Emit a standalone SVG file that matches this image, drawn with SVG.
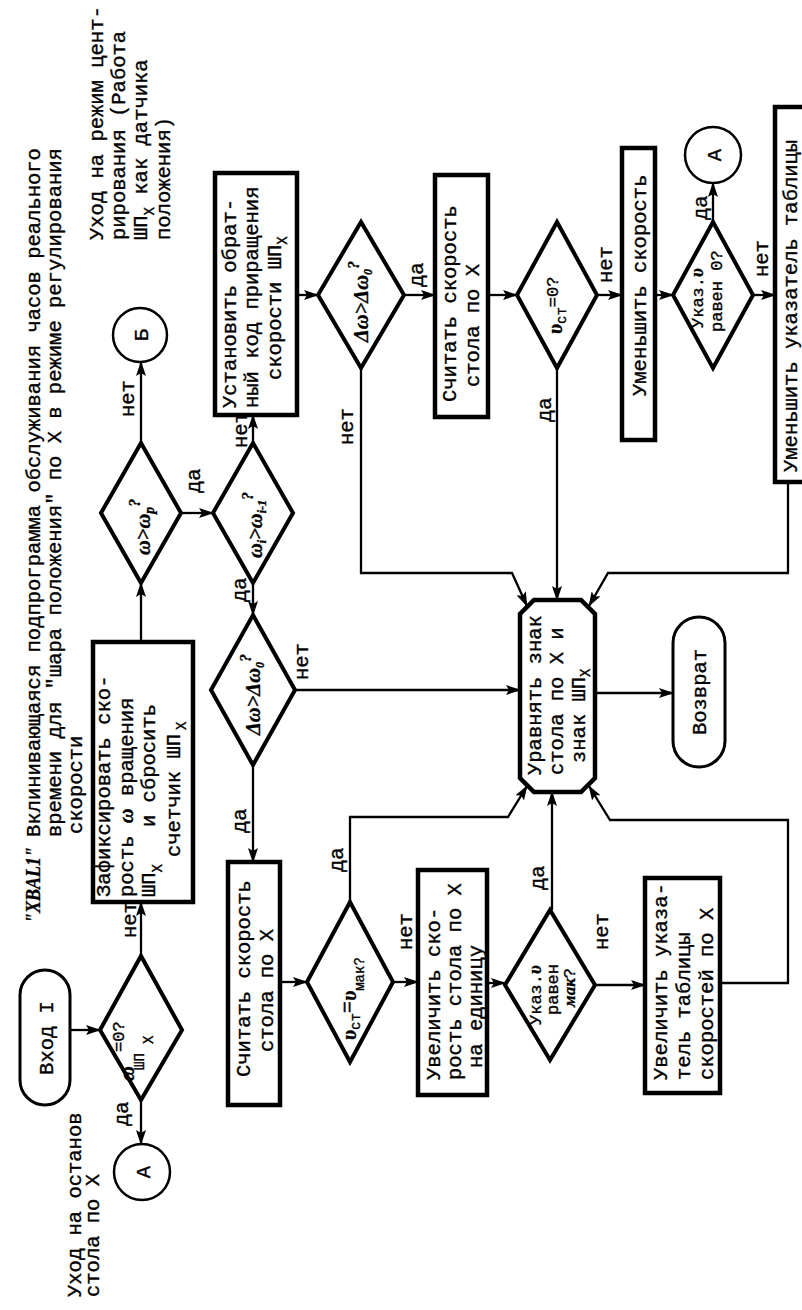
<svg xmlns="http://www.w3.org/2000/svg" width="802" height="1310" viewBox="0 0 802 1310">
<defs>
<style>
.t{font-family:"Liberation Mono","DejaVu Sans Mono",monospace;font-size:20.5px;fill:#000;stroke:#000;stroke-width:0.35}
.d{font-size:17px}
.sub{font-size:14px}
.m{font-family:"Liberation Serif","DejaVu Serif",serif;font-style:italic;font-weight:bold}
.box{fill:#fff;stroke:#000;stroke-width:4.5}
.dia{fill:#fff;stroke:#000;stroke-width:4;stroke-linejoin:miter}
.term{fill:#fff;stroke:#000;stroke-width:3}
.circ{fill:#fff;stroke:#000;stroke-width:2.5}
.c{fill:none;stroke:#000;stroke-width:2.3;marker-end:url(#ah)}
</style>
<marker id="ah" markerWidth="15" markerHeight="10" refX="14" refY="5" orient="auto" markerUnits="userSpaceOnUse">
<path d="M0,0 L15,5 L0,10 L3,5 z" fill="#000"/>
</marker>
</defs>
<rect width="802" height="1310" fill="#fff"/>
<g transform="translate(0,1310) rotate(-90)">

<g id="title" class="t">
<text x="387" y="40" class="m" textLength="76" lengthAdjust="spacingAndGlyphs">"XBAL1"</text>
<text x="473" y="40">Вклинивающаяся подпрограмма обслуживания часов реального</text>
<text x="473" y="61">времени для "шара положения" по X в режиме регулирования</text>
<text x="476" y="82">скорости</text>
</g>

<g id="note-stop" class="t">
<text x="13" y="81">Уход на останов</text>
<text x="13" y="99">стола по X</text>
</g>

<g id="note-center" class="t">
<text x="1070" y="103">Уход на режим цент-</text>
<text x="1070" y="125">рирования (Работа</text>
<text x="1070" y="147">ШП<tspan class="sub" dy="7">X</tspan><tspan dy="-7"> как датчика</tspan></text>
<text x="1070" y="170">положения)</text>
</g>

<g id="connectors">
<path class="c" d="M280,70 L280,100"/>
<path class="c" d="M210,141 L166,141"/>
<path class="c" d="M354,141 L408,141"/>
<path class="c" d="M668,141 L727,141"/>
<path class="c" d="M867,141 L948,141"/>
<path class="c" d="M797,181 L797,213"/>
<path class="c" d="M867,253 L895,253"/>
<path class="c" d="M1015,297 L1015,318"/>
<path class="c" d="M1015,404 L1015,435"/>
<path class="c" d="M942,361 L737,361 L737,512 L704,527"/>
<path class="c" d="M1015,488 L1015,517"/>
<path class="c" d="M942,557 L710,557"/>
<path class="c" d="M1015,597 L1015,622"/>
<path class="c" d="M1015,655 L1015,673"/>
<path class="c" d="M1088,713 L1127,713"/>
<path class="c" d="M1015,753 L1015,775"/>
<path class="c" d="M828,788 L737,788 L737,608 L704,589"/>
<path class="c" d="M727,253 L695,253"/>
<path class="c" d="M620,295 L620,520"/>
<path class="c" d="M545,253 L448,253"/>
<path class="c" d="M328,280 L328,307"/>
<path class="c" d="M408,350 L493,350 L493,508 L524,527"/>
<path class="c" d="M328,393 L328,418"/>
<path class="c" d="M327,487 L327,505"/>
<path class="c" d="M400,552 L518,552"/>
<path class="c" d="M325,595 L325,645"/>
<path class="c" d="M327,720 L327,788 L490,788 L490,610 L524,589"/>
<path class="c" d="M617,595 L617,673"/>
</g>

<g id="labels" class="t">
<text x="184" y="128">да</text>
<text x="372" y="136">нет</text>
<text x="893" y="134">нет</text>
<text x="817" y="200">да</text>
<text x="862" y="247">нет</text>
<text x="1023" y="423">да</text>
<text x="865" y="353">нет</text>
<text x="888" y="551">да</text>
<text x="1027" y="612">нет</text>
<text x="1090" y="707">да</text>
<text x="1033" y="768">нет</text>
<text x="708" y="246">да</text>
<text x="630" y="308">нет</text>
<text x="477" y="246">да</text>
<text x="438" y="343">да</text>
<text x="360" y="412">нет</text>
<text x="420" y="544">да</text>
<text x="360" y="608">нет</text>
</g>

<g id="entry">
<rect class="term" x="205" y="20" width="135" height="50" rx="25"/>
<text class="t" x="272" y="53" text-anchor="middle">Вход I</text>
</g>

<g id="d-shp0">
<polygon class="dia" points="210,141 280,100 354,141 280,182"/>
<text class="t d" x="258" y="124">=0?</text>
<text class="t m" x="229" y="134" font-size="20">ω</text>
<text class="t sub" x="240" y="144">ШП</text>
<text class="t sub" x="266" y="153">X</text>
</g>

<g id="A1">
<circle class="circ" cx="138" cy="142" r="28"/>
<text class="t" x="138" y="150" text-anchor="middle">А</text>
</g>

<g id="fix">
<rect class="box" x="408" y="93" width="260" height="100"/>
<text class="t" x="413" y="110">Зафиксировать ско-</text>
<text class="t" x="413" y="133">рость <tspan class="m">ω</tspan> вращения</text>
<text class="t" x="413" y="155">ШП<tspan class="sub" dy="7">X</tspan><tspan x="483" dy="-7">и сбросить</tspan></text>
<text class="t" x="453" y="180">счетчик ШП<tspan class="sub" dx="4" dy="6">X</tspan></text>
</g>

<g id="d-wr">
<polygon class="dia" points="727,141 797,101 867,141 797,181"/>
<text class="t m" x="755" y="150" font-size="20">ω&gt;ω<tspan font-size="14" dy="4">р</tspan><tspan font-size="16" dy="-14">?</tspan></text>
</g>

<g id="B">
<circle class="circ" cx="975" cy="140" r="27"/>
<text class="t" x="975" y="148" text-anchor="middle">Б</text>
</g>

<g id="d-wi">
<polygon class="dia" points="727,253 797,213 867,253 797,293"/>
<text class="t m" x="752" y="262" font-size="19">ω<tspan font-size="12" dy="4">i</tspan><tspan dy="-4">&gt;ω</tspan><tspan font-size="12" dy="4">i-1</tspan><tspan font-size="16" dy="-13">?</tspan></text>
</g>

<g id="set-inv">
<rect class="box" x="895" y="215" width="242" height="82"/>
<text class="t" x="902" y="236">Установить обрат-</text>
<text class="t" x="902" y="258">ный код приращения</text>
<text class="t" x="930" y="281">скорости ШП<tspan class="sub" dy="6">X</tspan></text>
</g>

<g id="d-dw1">
<polygon class="dia" points="942,361 1015,318 1088,361 1015,404"/>
<text class="t m" x="968" y="368" font-size="19">Δω&gt;Δω<tspan font-size="12" dy="4">0</tspan><tspan font-size="16" dy="-13">?</tspan></text>
</g>

<g id="read1">
<rect class="box" x="893" y="435" width="242" height="53"/>
<text class="t" x="908" y="456">Считать скорость</text>
<text class="t" x="923" y="479">стола по X</text>
</g>

<g id="d-v0">
<polygon class="dia" points="942,557 1015,517 1088,557 1015,597"/>
<text class="t m" x="976" y="562" font-size="20">υ<tspan class="t sub" font-style="normal" font-weight="normal" dy="4">ст</tspan><tspan class="t d" font-style="normal" font-weight="normal" dy="-8">=0?</tspan></text>
</g>

<g id="dec-speed">
<rect class="box" x="870" y="622" width="292" height="33"/>
<text class="t" x="914" y="646">Уменьшить скорость</text>
</g>

<g id="d-p0">
<polygon class="dia" points="942,713 1015,673 1088,713 1015,753"/>
<text class="t d" x="982" y="703">Указ.<tspan class="m" font-size="18">υ</tspan></text>
<text class="t d" x="978" y="722">равен 0?</text>
</g>

<g id="A2">
<circle class="circ" cx="1155" cy="713" r="28"/>
<text class="t" x="1155" y="721" text-anchor="middle">А</text>
</g>

<g id="dec-ptr">
<rect class="box" x="828" y="775" width="375" height="50"/>
<text class="t" x="838" y="797">Уменьшить указатель таблицы</text>
</g>

<g id="d-dw2">
<polygon class="dia" points="545,253 620,211 695,253 620,295"/>
<text class="t m" x="575" y="260" font-size="19">Δω&gt;Δω<tspan font-size="12" dy="4">0</tspan><tspan font-size="16" dy="-13">?</tspan></text>
</g>

<g id="read2">
<rect class="box" x="205" y="228" width="243" height="52"/>
<text class="t" x="233" y="250">Считать скорость</text>
<text class="t" x="258" y="273">стола по X</text>
</g>

<g id="d-vmax">
<polygon class="dia" points="248,350 328,307 408,350 328,393"/>
<text class="t m" x="270" y="356" font-size="20">υ<tspan class="t sub" font-style="normal" font-weight="normal" dy="4">ст</tspan><tspan class="t" font-style="normal" font-weight="normal" dy="-6">=</tspan><tspan dy="2">υ</tspan><tspan class="t sub" font-style="normal" font-weight="normal" dy="8">мак?</tspan></text>
</g>

<g id="inc-speed">
<rect class="box" x="215" y="418" width="225" height="69"/>
<text class="t" x="230" y="440">Увеличить ско-</text>
<text class="t" x="230" y="461">рость стола по X</text>
<text class="t" x="242" y="482">на единицу</text>
</g>

<g id="d-pmax">
<polygon class="dia" points="250,550 325,505 400,550 325,595"/>
<text class="t d" x="285" y="541">Указ.<tspan class="m" font-size="18">υ</tspan></text>
<text class="t d" x="295" y="558">равен</text>
<text class="t d" x="303" y="575"><tspan class="m">мак</tspan>?</text>
</g>

<g id="inc-ptr">
<rect class="box" x="217" y="645" width="215" height="75"/>
<text class="t" x="230" y="667">Увеличить указа-</text>
<text class="t" x="230" y="690">тель таблицы</text>
<text class="t" x="230" y="713">скоростей по X</text>
</g>

<g id="equalize">
<polygon class="box" points="532,520 696,520 710,534 710,581 696,595 532,595 518,581 518,534"/>
<text class="t" x="535" y="541">Уравнять знак</text>
<text class="t" x="535" y="563">стола по X и</text>
<text class="t" x="547" y="585">знак ШП<tspan class="sub" dy="5">X</tspan></text>
</g>

<g id="return">
<rect class="term" x="543" y="673" width="150" height="52" rx="26"/>
<text class="t" x="618" y="706" text-anchor="middle">Возврат</text>
</g>

</g>
</svg>
